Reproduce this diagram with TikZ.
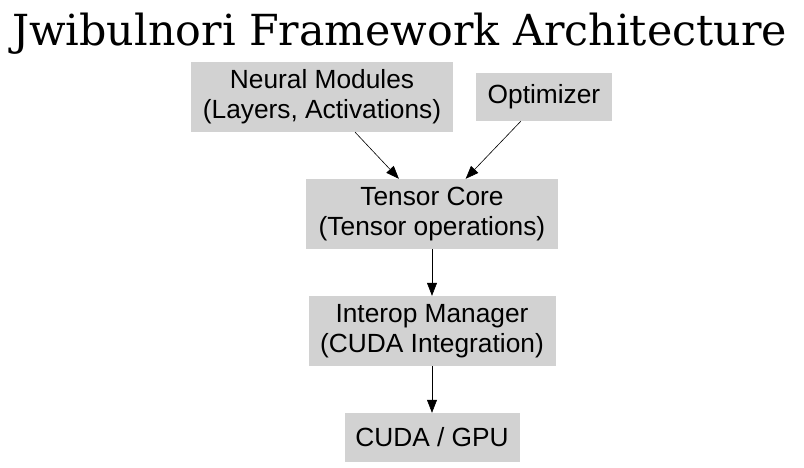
\documentclass[tikz,border=0pt]{standalone}
\usepackage{fontspec}
\setmainfont{Liberation Sans}
\newfontfamily\titlefont{DejaVu Serif}
\usetikzlibrary{arrows.meta, positioning}
\tikzstyle{block} = [rectangle, fill=lightgray!70, align=center, inner sep=0pt, font=\fontsize{26.3}{30}\selectfont]
\tikzstyle{path} = [-{Triangle[length=13pt, width=10pt]}, semithick]

\begin{document}
\begin{tikzpicture}[x=1pt, y=-1pt]
    \useasboundingbox (0,0) rectangle (804,468);
    % Title.
    \node (title) [anchor=base, font=\titlefont\fontsize{42.8}{46}\selectfont] at (399.5,46) {Jwibulnori Framework Architecture};

    % Blocks.
    \node (neural) [block, minimum width=262pt, minimum height=70pt] at (322,97) {Neural Modules\\(Layers, Activations)};
    \node (optimizer) [block, minimum width=136pt, minimum height=48pt] at (544,97) {Optimizer};
    \node (tensor) [block, minimum width=252pt, minimum height=70pt] at (432,214) {Tensor Core\\(Tensor operations)};
    \node (interop) [block, minimum width=247pt, minimum height=70pt] at (432,331) {Interop Manager\\(CUDA Integration)};
    \node (cuda) [block, minimum width=175pt, minimum height=49pt] at (432,437.5) {CUDA / GPU};

    % Arrows.
    \draw [path] (neural) -- (tensor);
    \draw [path] (optimizer) -- (tensor);
    \draw [path] (tensor) -- (interop);
    \draw [path] (interop) -- (cuda);
\end{tikzpicture}
\end{document}
